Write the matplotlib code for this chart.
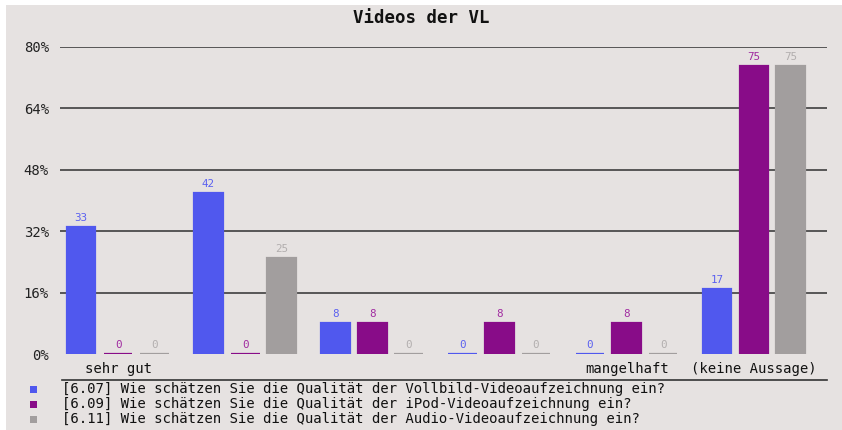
import matplotlib.pyplot as plt
import numpy as np
from matplotlib.patches import Rectangle

plt.rcParams['font.family'] = ['DejaVu Sans Mono']

# Daten
categories = ['sehr gut', '', '', '', 'mangelhaft', '(keine Aussage)']
vollbild = [33, 42, 8, 0, 0, 17]
ipod = [0, 0, 8, 8, 8, 75]
audio = [0, 25, 0, 0, 0, 75]
series_names = [
    '[6.07] Wie schätzen Sie die Qualität der Vollbild-Videoaufzeichnung ein?',
    '[6.09] Wie schätzen Sie die Qualität der iPod-Videoaufzeichnung ein?',
    '[6.11] Wie schätzen Sie die Qualität der Audio-Videoaufzeichnung ein?',
]
yticks = [0, 16, 32, 48, 64, 80]

bar_colors = ['#5058ee', '#880c88', '#a29e9e']
label_colors = ['#5a60f0', '#a02aa0', '#b2aeae']
bg = '#e6e2e1'

W, H = 842, 430
fig = plt.figure(figsize=(W / 100, H / 100), dpi=100, facecolor='white')
fig.patches.append(Rectangle((6 / W, 0), 1, 1 - 5 / H, transform=fig.transFigure,
                             facecolor=bg, edgecolor='none', zorder=-10))

ax = fig.add_axes([60 / W, (H - 354) / H, (827 - 60) / W, (354 - 47) / H])
ax.set_facecolor('none')
ax.set_xlim(-0.456, 5.574)
ax.set_ylim(0, 80)
for s in ax.spines.values():
    s.set_visible(False)

for y in yticks[1:]:
    ax.axhline(y, color='#3e3e3e', lw=1.2, zorder=1)

x = np.arange(len(categories))
offsets = [-0.29, 0.0, 0.285]
width = 0.225
for vals, off, c, lc in zip([vollbild, ipod, audio], offsets, bar_colors, label_colors):
    bars = ax.bar(x + off, vals, width, color=c, edgecolor=c, linewidth=1.6, zorder=2)
    for b, v in zip(bars, vals):
        ax.annotate(str(v), (b.get_x() + b.get_width() / 2, v), xytext=(0, 3),
                    textcoords='offset points', ha='center', va='bottom',
                    fontsize=7.8, color=lc, clip_on=False)

ax.set_yticks(yticks)
ax.set_yticklabels([f'{t}%' for t in yticks], fontsize=10, color='#222222')
ax.tick_params(axis='y', length=0, pad=8)
ax.set_xticks(x)
ax.set_xticklabels(categories, fontsize=10, color='#111111')
ax.tick_params(axis='x', length=0, pad=6)

fig.text(0.5, 1 - 18 / H, 'Videos der VL', ha='center', va='center',
         fontsize=12.5, fontweight='bold', color='#111111')

# Linie unter den Kategorien
fig.add_artist(plt.Line2D([62 / W, 827 / W], [1 - 380 / H] * 2, transform=fig.transFigure,
                          color='#333333', lw=1.2))

# Legende
for i, (name, c) in enumerate(zip(series_names, bar_colors)):
    yy = 1 - (389 + 15 * i) / H
    fig.patches.append(Rectangle((30 / W, yy - 3.5 / H), 7 / W, 7 / H, transform=fig.transFigure,
                                 facecolor=c, edgecolor='none'))
    fig.text(62 / W, yy, name, ha='left', va='center', fontsize=10.1, color='#111111')

plt.savefig('out.png', dpi=100, facecolor='white')
